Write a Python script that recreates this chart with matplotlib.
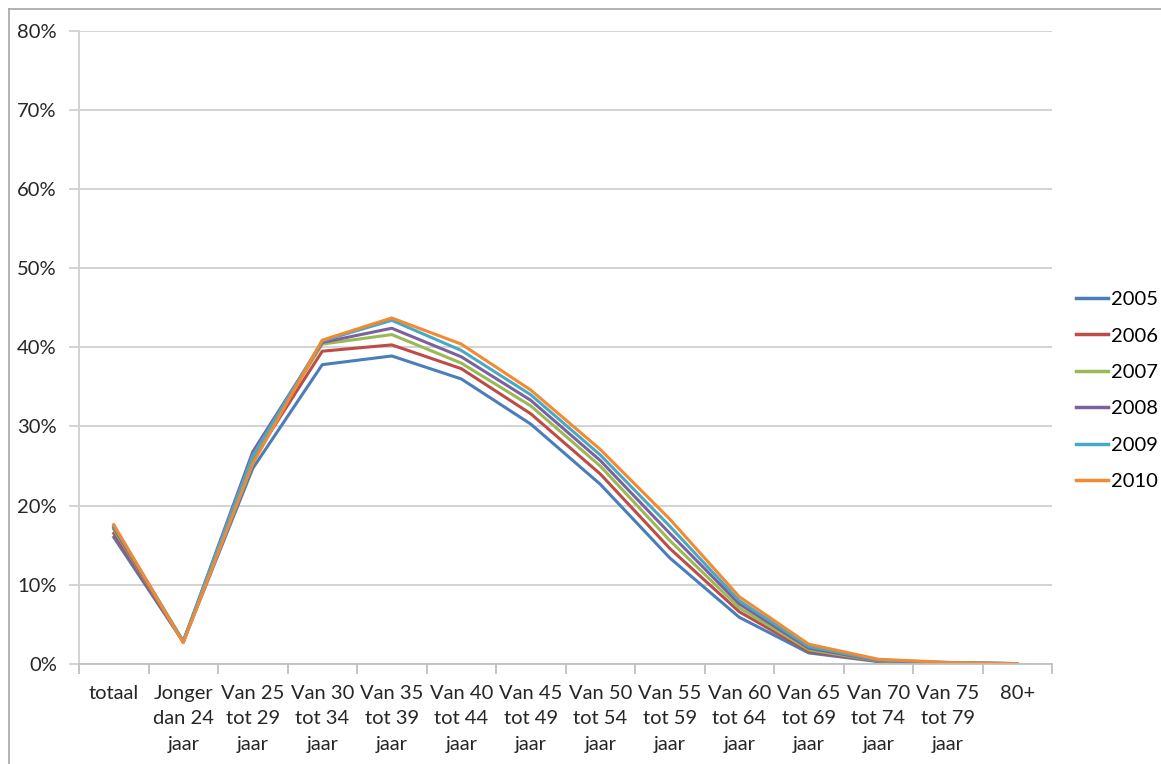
import matplotlib.pyplot as plt
from matplotlib.lines import Line2D
from matplotlib.ticker import PercentFormatter
import numpy as np

plt.rcParams['font.family'] = ['Lato', 'DejaVu Sans']

categories = ['totaal', 'Jonger\ndan 24\njaar', 'Van 25\ntot 29\njaar', 'Van 30\ntot 34\njaar',
              'Van 35\ntot 39\njaar', 'Van 40\ntot 44\njaar', 'Van 45\ntot 49\njaar',
              'Van 50\ntot 54\njaar', 'Van 55\ntot 59\njaar', 'Van 60\ntot 64\njaar',
              'Van 65\ntot 69\njaar', 'Van 70\ntot 74\njaar', 'Van 75\ntot 79\njaar', '80+']

years = ['2005', '2006', '2007', '2008', '2009', '2010']

v2005 = [16.0, 2.8, 24.7, 37.8, 38.9, 36.0, 30.3, 22.7, 13.4, 5.9, 1.4, 0.3, 0.1, 0.05]
v2006 = [16.5, 2.8, 25.8, 39.5, 40.3, 37.3, 31.6, 24.0, 14.6, 6.6, 1.6, 0.35, 0.1, 0.05]
v2007 = [17.0, 2.8, 26.2, 40.4, 41.6, 38.0, 32.6, 25.0, 15.6, 7.1, 1.8, 0.4, 0.15, 0.05]
v2008 = [17.2, 2.8, 26.8, 40.6, 42.4, 38.8, 33.3, 25.7, 16.5, 7.6, 2.0, 0.45, 0.15, 0.05]
v2009 = [17.4, 2.9, 26.3, 40.8, 43.4, 39.6, 34.0, 26.4, 17.4, 8.0, 2.2, 0.5, 0.2, 0.05]
v2010 = [17.6, 2.7, 25.3, 40.9, 43.7, 40.4, 34.6, 27.1, 18.3, 8.5, 2.5, 0.6, 0.2, 0.05]

series = [v2005, v2006, v2007, v2008, v2009, v2010]
colors = ['#4A7EBB', '#BE4B48', '#98B954', '#7D60A0', '#46AAC5', '#F38A33']

fig = plt.figure(figsize=(11.61, 7.64), dpi=100)
ax = fig.add_axes([79 / 1161, 1 - 664 / 764, (1052 - 79) / 1161, (664 - 30.5) / 764])

x = np.arange(len(categories))
for vals, col, yr in zip(series, colors, years):
    ax.plot(x, vals, color=col, linewidth=2.2, label=yr, solid_joinstyle='round')

ax.set_xlim(-0.5, len(categories) - 0.5)
ax.set_ylim(0, 80)
ax.set_yticks(np.arange(0, 81, 10))
ax.yaxis.set_major_formatter(PercentFormatter(decimals=0))
ax.grid(axis='y', color='#D0D0D0', linewidth=1.3)
ax.set_axisbelow(True)

ax.set_xticks(x)
ax.set_xticklabels(categories, fontsize=14.5, linespacing=1.6, color='#262626')
ax.set_xticks(np.arange(-0.5, len(categories), 1), minor=True)
ax.tick_params(axis='x', which='major', length=0, pad=15)
ax.tick_params(axis='x', which='minor', length=7, color='#BFBFBF', width=1.3)
ax.tick_params(axis='y', length=7, color='#D0D0D0', width=1.3, labelsize=14.5,
               labelcolor='#262626', pad=9)

for s in ['top', 'right']:
    ax.spines[s].set_visible(False)
ax.spines['left'].set_color('#D0D0D0')
ax.spines['left'].set_linewidth(1.3)
ax.spines['bottom'].set_color('#BFBFBF')
ax.spines['bottom'].set_linewidth(1.3)

handles = [Line2D([0], [0], color=c, linewidth=2.5) for c in colors]
fig.legend(handles, years, loc='upper left', bbox_to_anchor=(1076 / 1161, 1 - 291 / 764),
           frameon=False, fontsize=14.5, handlelength=1.6, handletextpad=0.15,
           labelspacing=0.96, borderaxespad=0, borderpad=0)

# outer frame of the chart (top and left edges visible)
fig.add_artist(Line2D([9 / 1161, 1], [1 - 9 / 764, 1 - 9 / 764], color='#A6A6A6',
                      linewidth=1.2, transform=fig.transFigure))
fig.add_artist(Line2D([9 / 1161, 9 / 1161], [0, 1 - 9 / 764], color='#A6A6A6',
                      linewidth=1.2, transform=fig.transFigure))

fig.savefig('out.png', dpi=100)
